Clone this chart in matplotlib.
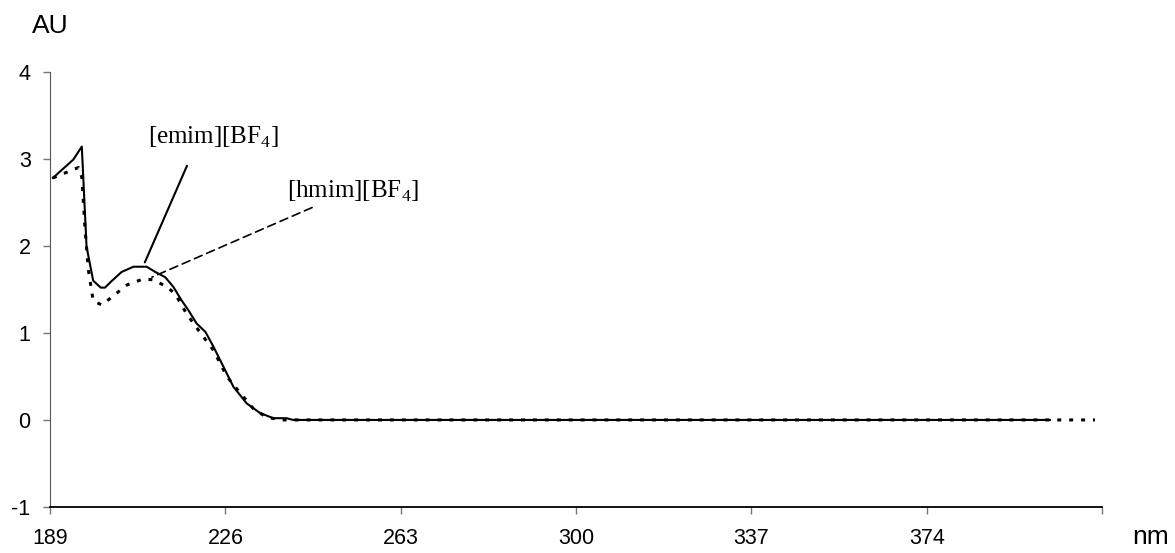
import matplotlib
matplotlib.use("Agg")
import matplotlib.pyplot as plt

plt.rcParams['font.family'] = ['Liberation Sans', 'DejaVu Sans']
plt.rcParams['mathtext.fontset'] = 'custom'
plt.rcParams['mathtext.rm'] = 'Liberation Serif'
plt.rcParams['axes.unicode_minus'] = False

# absorbance spectra
emim_nm = [189.6, 193.9, 195.7, 196.7, 198.1, 199.7, 200.6, 201.7, 204.1, 206.6,
           209.4, 211.2, 213.3, 215.0, 216.8, 218.2, 219.9, 221.8, 223.5, 225.6,
           227.7, 230.5, 233.3, 236.1, 238.9, 240.3, 400.0]
emim_au = [2.78, 2.99, 3.14, 1.99, 1.60, 1.52, 1.52, 1.58, 1.70, 1.76,
           1.76, 1.70, 1.64, 1.53, 1.37, 1.26, 1.11, 1.01, 0.84, 0.61,
           0.38, 0.19, 0.08, 0.02, 0.02, 0.0, 0.0]

hmim_nm = [189.6, 195.0, 195.7, 196.4, 197.1, 198.1, 199.9, 202.0, 205.2, 208.7,
           210.8, 213.6, 215.4, 217.8, 220.6, 223.5, 226.3, 229.1, 231.9, 234.7,
           238.0, 409.5]
hmim_au = [2.78, 2.90, 2.79, 2.18, 1.72, 1.37, 1.32, 1.41, 1.55, 1.62,
           1.61, 1.53, 1.45, 1.22, 1.01, 0.80, 0.50, 0.31, 0.13, 0.03,
           0.0, 0.0]

xticks = [189, 226, 263, 300, 337, 374, 411]
xticklabels = ['189', '226', '263', '300', '337', '374', '']
yticks = [-1, 0, 1, 2, 3, 4]

fig = plt.figure(figsize=(11.75, 5.53), dpi=100)
ax = fig.add_axes([0.0426, 0.0832, 0.8953, 0.7871])

ax.plot(emim_nm, emim_au, color='black', lw=1.5, solid_joinstyle='round')
ax.plot(hmim_nm, hmim_au, color='black', lw=2.2, linestyle=(0, (1.3, 2.6)))

ax.set_xlim(189, 411)
ax.set_ylim(-1, 4)
ax.set_xticks(xticks)
ax.set_xticklabels(xticklabels)
ax.set_yticks(yticks)
ax.tick_params(axis='both', labelsize=15.5, length=5, width=1, color='#777777')
ax.tick_params(axis='x', pad=10)
ax.tick_params(axis='y', pad=9)

for s in ['top', 'right']:
    ax.spines[s].set_visible(False)
ax.spines['left'].set_color('#555555')
ax.spines['bottom'].set_color('black')
ax.spines['bottom'].set_linewidth(1.3)

# labels with leader lines
ax.annotate('', xy=(209.0, 1.81), xytext=(217.9, 2.92),
            arrowprops=dict(arrowstyle='-', color='black', lw=1.5, shrinkA=0, shrinkB=0))
ax.annotate('', xy=(210.5, 1.64), xytext=(244.3, 2.44),
            arrowprops=dict(arrowstyle='-', color='black', lw=1.2, linestyle=(0, (5, 3)),
                            shrinkA=0, shrinkB=0))
ax.text(209.7, 3.24, '[emim][BF$_4$]', fontsize=18, family='Liberation Serif', va='center')
ax.text(239.0, 2.63, '[hmim][BF$_4$]', fontsize=18, family='Liberation Serif', va='center')

fig.text(50 / 1175, 1 - 26 / 553, 'AU', fontsize=19, ha='center', va='center')
fig.text(1151 / 1175, 1 - 537 / 553, 'nm', fontsize=19, ha='center', va='center')

fig.savefig('out.png', dpi=100)
